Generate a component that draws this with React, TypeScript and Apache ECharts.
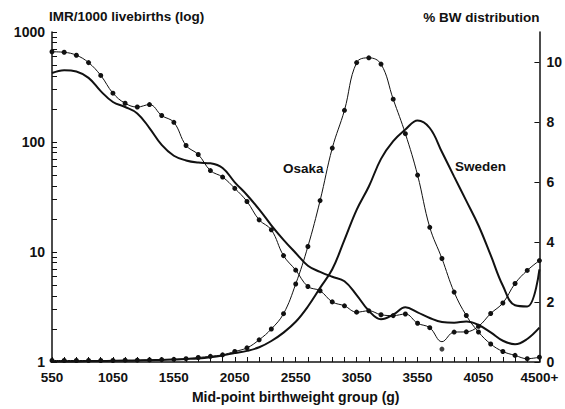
import React, { useEffect, useRef } from 'react';
import * as echarts from 'echarts';

// Mid-point birthweight groups (g); the last group is the open "4500+" class
const weightGroups = [
  '550', '650', '750', '850', '950', '1050', '1150', '1250', '1350', '1450',
  '1550', '1650', '1750', '1850', '1950', '2050', '2150', '2250', '2350', '2450',
  '2550', '2650', '2750', '2850', '2950', '3050', '3150', '3250', '3350', '3450',
  '3550', '3650', '3750', '3850', '3950', '4050', '4150', '4250', '4350', '4450',
  '4550',
];
const lastGroupLabel = '4500+';

// Infant mortality per 1000 livebirths (log axis)
const osakaIMR = [
  661, 654, 615, 527, 403, 278, 225, 208, 219, 174,
  151, 93, 77, 55, 48, 37.9, 28.8, 19.6, 15.9, 9.27,
  6.84, 4.86, 4.44, 3.52, 3.24, 2.84, 2.92, 2.69, 2.64, 2.73,
  2.25, 2.05, 1.53, 1.87, 1.88, 2.11, 2.76, 3.44, 5.17, 6.8,
  8.36,
];
const osakaIMRHiddenDot = '3750';
const osakaIMROutlier = { group: '3750', value: 1.31 };

const swedenIMR = [
  424, 450, 438, 383, 290, 231, 208, 182, 134, 94,
  75, 68, 65, 64, 58, 43, 33, 24.4, 17.5, 12.9,
  9.8, 7.5, 6.6, 5.95, 5.42, 4.06, 2.92, 2.45, 2.69, 3.14,
  2.83, 2.51, 2.31, 2.28, 2.33, 2.17, 1.86, 1.56, 1.45, 1.62,
  2.05,
];

// % birthweight distribution (right axis)
const osakaBW = [
  0.05, 0.05, 0.05, 0.05, 0.05, 0.05, 0.06, 0.06, 0.07, 0.08,
  0.09, 0.11, 0.15, 0.19, 0.24, 0.35, 0.47, 0.74, 1.1, 1.61,
  2.6, 3.85, 5.38, 7.13, 8.39, 9.98, 10.14, 9.93, 8.76, 7.61,
  6.23, 4.49, 3.45, 2.33, 1.55, 1.0, 0.6, 0.35, 0.22, 0.11,
  0.16,
];
const swedenBW = [
  0.02, 0.02, 0.02, 0.03, 0.03, 0.04, 0.04, 0.05, 0.06, 0.07,
  0.08, 0.1, 0.12, 0.16, 0.22, 0.3, 0.37, 0.49, 0.7, 0.98,
  1.34, 1.85, 2.47, 3.09, 4.07, 5.07, 5.85, 6.77, 7.36, 7.75,
  8.05, 7.8, 7.0, 6.18, 5.37, 4.55, 3.56, 2.54, 1.89, 1.85,
  3.09,
];

const imrTickValues = [
  1, 2, 3, 4, 5, 6, 7, 8, 9,
  10, 20, 30, 40, 50, 60, 70, 80, 90,
  100, 200, 300, 400, 500, 600, 700, 800, 900, 1000,
];
const imrLabelValues = [1, 10, 100, 1000];
const bwTickValues = [0, 2, 4, 6, 8, 10];

const FONT = '"Liberation Sans", Arial, Helvetica, sans-serif';
const INK = '#111';

export default function App() {
  const ref = useRef<HTMLDivElement>(null);

  useEffect(() => {
    document.body.style.margin = '0';
    if (!ref.current) return;
    const chart = echarts.init(ref.current, null, { renderer: 'svg' });

    const labelStyle = { color: INK, fontFamily: FONT, fontWeight: 'bold' as const, fontSize: 13.5 };

    chart.setOption({
      animation: false,
      backgroundColor: '#fff',
      textStyle: { fontFamily: FONT, color: INK },
      grid: { left: 52, right: 25, top: 32, bottom: 41 },
      xAxis: {
        type: 'category',
        data: weightGroups,
        boundaryGap: false,
        axisLine: { show: true, lineStyle: { color: INK, width: 1.5 } },
        axisTick: { show: true, inside: true, length: 5, interval: 0, lineStyle: { color: INK, width: 1 } },
        axisLabel: {
          ...labelStyle,
          interval: 4,
          margin: 8,
          formatter: (v: string, i: number) => (i === weightGroups.length - 1 ? lastGroupLabel : v),
        },
        splitLine: { show: false },
        name: 'Mid-point birthweight group (g)',
        nameLocation: 'middle',
        nameGap: 28,
        nameTextStyle: { color: INK, fontFamily: FONT, fontWeight: 'bold', fontSize: 14 },
      },
      yAxis: [
        {
          type: 'log',
          logBase: 10,
          min: 1,
          max: 1000,
          position: 'left',
          axisLine: { show: true, lineStyle: { color: INK, width: 1.5 } },
          axisTick: { show: true, inside: true, length: 5, customValues: imrTickValues, lineStyle: { color: INK, width: 1 } },
          axisLabel: {
            ...labelStyle,
            fontSize: 14,
            customValues: imrLabelValues,
            margin: 7,
            formatter: (v: number) => String(Math.round(v)),
          },
          splitLine: { show: false },
          minorTick: { show: false },
          name: 'IMR/1000 livebirths (log)',
          nameLocation: 'end',
          nameGap: 9,
          nameTextStyle: { color: INK, fontFamily: FONT, fontWeight: 'bold', fontSize: 13.5, align: 'left', padding: [0, 0, 0, -3] },
        },
        {
          type: 'value',
          min: 0,
          max: 11,
          position: 'right',
          axisLine: { show: true, lineStyle: { color: INK, width: 1.5 } },
          axisTick: { show: true, inside: true, length: 5, customValues: bwTickValues, lineStyle: { color: INK, width: 1 } },
          axisLabel: { ...labelStyle, fontSize: 14, customValues: bwTickValues, margin: 7 },
          splitLine: { show: false },
          name: '% BW distribution',
          nameLocation: 'end',
          nameGap: 8,
          nameTextStyle: { color: INK, fontFamily: FONT, fontWeight: 'bold', fontSize: 13.5, align: 'right' },
        },
      ],
      series: [
        {
          name: 'Osaka IMR',
          type: 'line',
          yAxisIndex: 0,
          smooth: 0.4,
          symbol: 'circle',
          symbolSize: 5,
          showAllSymbol: true,
          lineStyle: { color: INK, width: 1 },
          itemStyle: { color: INK },
          data: osakaIMR.map((v, i) =>
            weightGroups[i] === osakaIMRHiddenDot ? { value: v, symbol: 'none' } : v
          ),
        },
        {
          name: 'Osaka IMR outlier',
          type: 'scatter',
          yAxisIndex: 0,
          symbol: 'circle',
          symbolSize: 5,
          itemStyle: { color: INK },
          data: [[osakaIMROutlier.group, osakaIMROutlier.value]],
        },
        {
          name: 'Sweden IMR',
          type: 'line',
          yAxisIndex: 0,
          smooth: 0.4,
          symbol: 'none',
          lineStyle: { color: INK, width: 2 },
          data: swedenIMR,
        },
        {
          name: 'Osaka BW',
          type: 'line',
          yAxisIndex: 1,
          smooth: 0.4,
          symbol: 'circle',
          symbolSize: 5,
          showAllSymbol: true,
          lineStyle: { color: INK, width: 1 },
          itemStyle: { color: INK },
          data: osakaBW,
        },
        {
          name: 'Sweden BW',
          type: 'line',
          yAxisIndex: 1,
          smooth: 0.4,
          symbol: 'none',
          lineStyle: { color: INK, width: 2 },
          data: swedenBW,
        },
      ],
      graphic: [
        {
          type: 'text',
          left: 283,
          top: 161,
          style: { text: 'Osaka', fill: INK, font: `bold 13.5px ${FONT}` },
        },
        {
          type: 'text',
          left: 455,
          top: 159,
          style: { text: 'Sweden', fill: INK, font: `bold 13.5px ${FONT}` },
        },
      ],
    });

    return () => chart.dispose();
  }, []);

  return <div ref={ref} style={{ width: 565, height: 409 }} />;
}
